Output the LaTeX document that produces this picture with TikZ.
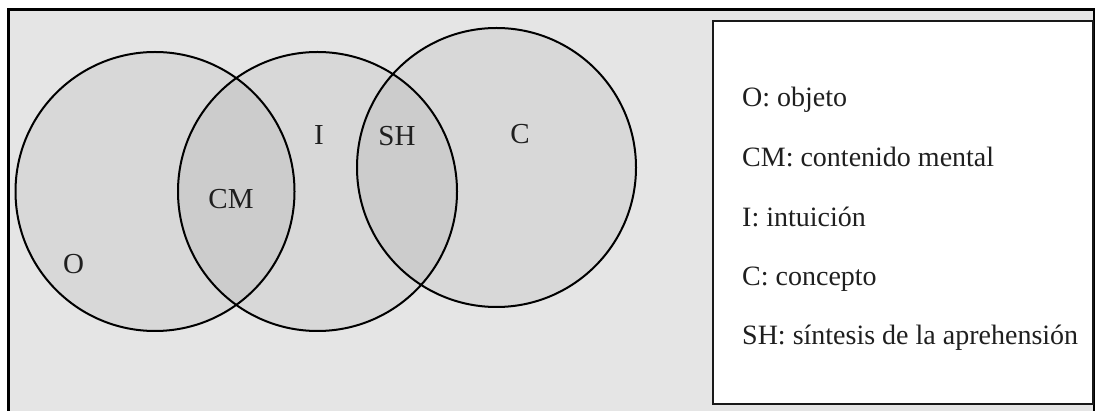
\documentclass[tikz,border=0pt]{standalone}
\usepackage{fontspec}
\setmainfont{Liberation Serif}
\begin{document}
\begin{tikzpicture}[x=1pt,y=-1pt,
  frame/.style={line width=2.6pt,black},
  venn/.style={circle,draw=black,line width=2pt,fill=black,fill opacity=0.055,minimum size=279pt,inner sep=0pt},
  lbl/.style={anchor=base,inner sep=0pt,font=\fontsize{29}{32}\selectfont,text=black!88},
  legendbox/.style={draw=black!90,line width=2pt,fill=white},
  legline/.style={anchor=base west,inner sep=0pt,font=\fontsize{28}{30}\selectfont,text=black!88}]
\useasboundingbox (0,0) rectangle (1095,411);
\fill[white] (0,0) rectangle (1095,411);
\fill[black!10] (8,9) rectangle (1095,411);
\draw[frame] (8.5,411) -- (8.5,9.5) -- (1094,9.5) -- (1094,411);
% Venn circles
\node[venn] (O) at (155,191.5) {};
\node[venn] (I) at (317.5,191.5) {};
\node[venn] (C) at (496.5,167.5) {};
% labels
\node[lbl] (lO) at (73.5,274) {O};
\node[lbl] (lCM) at (231,209) {CM};
\node[lbl] (lI) at (319,145) {I};
\node[lbl] (lSH) at (397,146) {SH};
\node[lbl] (lC) at (520,144) {C};
% legend
\draw[legendbox] (713,21) rectangle (1093,404);
\node[legline] (g1) at (742,107) {O: objeto};
\node[legline] (g2) at (742,167) {CM: contenido mental};
\node[legline] (g3) at (742,227) {I: intuición};
\node[legline] (g4) at (742,286) {C: concepto};
\node[legline] (g5) at (742,345) {SH: síntesis de la aprehensión};
\end{tikzpicture}
\end{document}
